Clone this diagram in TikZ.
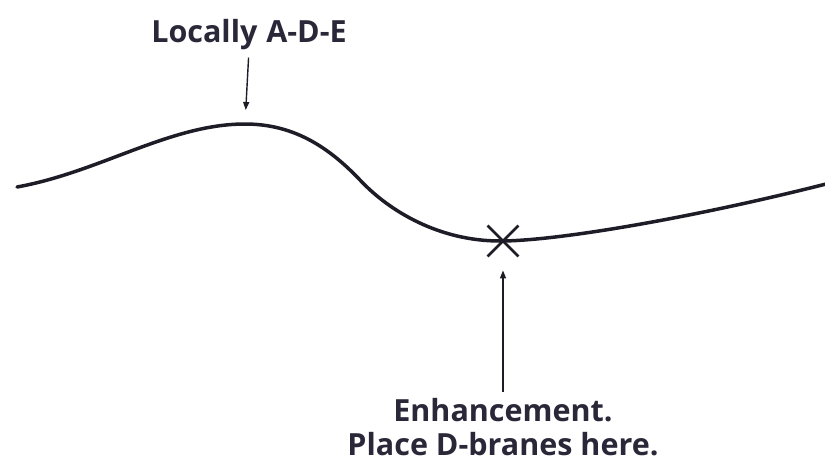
\documentclass[tikz,border=0pt]{standalone}
\usepackage{fontspec}
\setmainfont{Open Sans}
\usetikzlibrary{arrows.meta,shapes.misc}
\definecolor{ink}{HTML}{1E1C26}
\definecolor{txt}{HTML}{2A2838}
\tikzset{
  curve/.style={line width=3.5pt,ink,line cap=round},
  pointer/.style={line width=1.4pt,ink,-{Triangle[length=8pt,width=6pt]}},
  lbl/.style={inner sep=0pt,text=txt,font=\fontsize{30.5}{34.5}\selectfont\bfseries},
  crossmark/.style={cross out,draw=ink,line width=2.8pt,minimum size=28pt,inner sep=0pt}
}
\begin{document}
\begin{tikzpicture}[x=1pt,y=-1pt]
\useasboundingbox (0,0) rectangle (825,469);
\coordinate (start) at (17,187);
\coordinate (peak) at (245,124);
\coordinate (bend) at (360,180);
\coordinate (trough) at (500,241);
\coordinate (end) at (826,184);
\draw[curve] (start) .. controls (100,172) and (170,124) .. (peak)
  .. controls (295,124) and (330,148.5) .. (bend)
  .. controls (390,212) and (440,241) .. (trough)
  .. controls (560,241) and (700,216) .. (end);
\node[crossmark] (cross) at (503,241) {};
\node[lbl,anchor=base] (top) at (249,42) {Locally\hspace{1pt} A-D-E};
\node[lbl,anchor=north,align=center] (bottom) at (503,398) {Enhancement.\\Place D-branes here.};
\draw[pointer,shorten <=8pt,shorten >=14pt] (top.south) -- (peak);
\draw[pointer,shorten <=6pt,shorten >=14pt] (bottom.north) -- (cross.center |- cross.south);
\end{tikzpicture}
\end{document}
